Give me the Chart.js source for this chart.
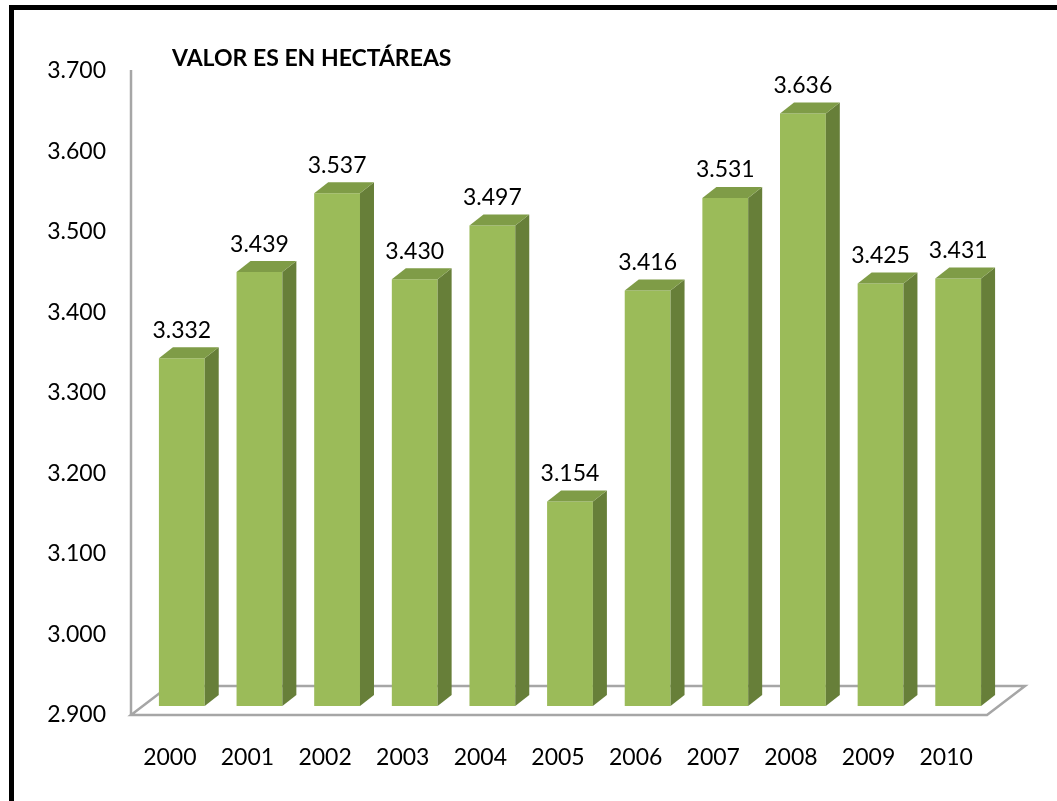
<!DOCTYPE html>
<html>
<head>
<meta charset="utf-8">
<title>Valor es en hectáreas</title>
<script src="https://cdn.jsdelivr.net/npm/chart.js"></script>
<style>
    body { margin: 0; background: #fff; }
    #wrap { position: relative; width: 1057px; height: 801px; }
    #frame {
        position: absolute; left: 9px; top: 5px; right: 0; bottom: 0;
        border-top: 5px solid #000; border-left: 5px solid #000;
        pointer-events: none;
    }
</style>
</head>
<body>
<div id="wrap">
    <canvas id="chart"></canvas>
    <div id="frame"></div>
</div>
<script>
// Data
const years = ['2000', '2001', '2002', '2003', '2004', '2005', '2006', '2007', '2008', '2009', '2010'];
const hectares = [3332, 3439, 3537, 3430, 3497, 3154, 3416, 3531, 3636, 3425, 3431];
const axisMin = 2900;
const axisMax = 3700;
const axisStep = 100;
const chartTitle = 'VALOR ES EN HECTÁREAS';

const FONT = 'Lato, "Open Sans", sans-serif';
const DEPTH_X = 14, DEPTH_Y = -11; // bar depth offset

// 3332 -> "3.332"
function fmt(v) {
    const s = String(Math.round(v));
    return s.length > 3 ? s.slice(0, -3) + '.' + s.slice(-3) : s;
}

// Draws floor, axis line, bar sides/tops, value labels and title
const fake3d = {
    id: 'fake3d',
    beforeDatasetsDraw(chart) {
        const ctx = chart.ctx;
        const y = chart.scales.y, x = chart.scales.x;
        const base = y.getPixelForValue(axisMin);
        const front = base + 9, back = base - 20;
        const fl = y.right - 12, fr = x.right - 10;
        ctx.save();
        ctx.strokeStyle = '#a6a6a6';
        ctx.lineWidth = 2.5;
        ctx.lineJoin = 'miter';
        // floor
        ctx.beginPath();
        ctx.moveTo(fl, front);
        ctx.lineTo(fr, front);
        ctx.lineTo(fr + 38, back);
        ctx.lineTo(fl + 38, back);
        ctx.closePath();
        ctx.stroke();
        // vertical axis
        ctx.beginPath();
        ctx.moveTo(fl, y.top + 8);
        ctx.lineTo(fl, front);
        ctx.stroke();
        ctx.restore();
    },
    afterDatasetsDraw(chart) {
        const ctx = chart.ctx;
        const meta = chart.getDatasetMeta(0);
        const bottom = chart.scales.y.getPixelForValue(axisMin);
        ctx.save();
        meta.data.forEach((bar, i) => {
            const p = bar.getProps(['x', 'y', 'width'], true);
            const left = p.x - p.width / 2, right = p.x + p.width / 2;
            // side face
            ctx.fillStyle = '#677f39';
            ctx.beginPath();
            ctx.moveTo(right, p.y);
            ctx.lineTo(right + DEPTH_X, p.y + DEPTH_Y);
            ctx.lineTo(right + DEPTH_X, bottom + DEPTH_Y);
            ctx.lineTo(right, bottom);
            ctx.closePath();
            ctx.fill();
            // top face
            ctx.fillStyle = '#7f9c47';
            ctx.beginPath();
            ctx.moveTo(left, p.y);
            ctx.lineTo(left + DEPTH_X, p.y + DEPTH_Y);
            ctx.lineTo(right + DEPTH_X, p.y + DEPTH_Y);
            ctx.lineTo(right, p.y);
            ctx.closePath();
            ctx.fill();
            // value label
            ctx.fillStyle = '#000';
            ctx.font = '23px ' + FONT;
            ctx.textAlign = 'center';
            ctx.textBaseline = 'middle';
            ctx.fillText(fmt(hectares[i]), p.x, p.y - 28);
        });
        ctx.restore();
    },
    afterDraw(chart) {
        const ctx = chart.ctx;
        ctx.save();
        ctx.fillStyle = '#000';
        ctx.font = 'bold 23px ' + FONT;
        ctx.textAlign = 'left';
        ctx.textBaseline = 'middle';
        ctx.fillText(chartTitle, 172, 59);
        ctx.restore();
    }
};

new Chart(document.getElementById('chart'), {
    type: 'bar',
    data: {
        labels: years,
        datasets: [{
            data: hectares,
            base: axisMin,
            backgroundColor: '#9bbb59',
            borderWidth: 0,
            categoryPercentage: 1,
            barPercentage: 0.59
        }]
    },
    options: {
        responsive: true,
        maintainAspectRatio: false,
        animation: false,
        layout: { padding: { top: 62, right: 60, left: 0, bottom: 0 } },
        plugins: {
            legend: { display: false },
            tooltip: { enabled: false }
        },
        scales: {
            x: {
                grid: { display: false, drawTicks: false },
                border: { display: false },
                ticks: {
                    color: '#000',
                    font: { family: FONT, size: 23 },
                    padding: 38,
                    labelOffset: -12,
                    maxRotation: 0
                },
                afterFit(scale) { scale.height = 95; }
            },
            y: {
                min: axisMin,
                max: axisMax,
                grid: { display: false, drawTicks: false },
                border: { display: false },
                ticks: {
                    stepSize: axisStep,
                    color: '#000',
                    font: { family: FONT, size: 23 },
                    padding: 37,
                    labelOffset: 9,
                    callback: v => fmt(v)
                },
                afterFit(scale) { scale.width = 143; }
            }
        }
    },
    plugins: [fake3d]
});
</script>
</body>
</html>
